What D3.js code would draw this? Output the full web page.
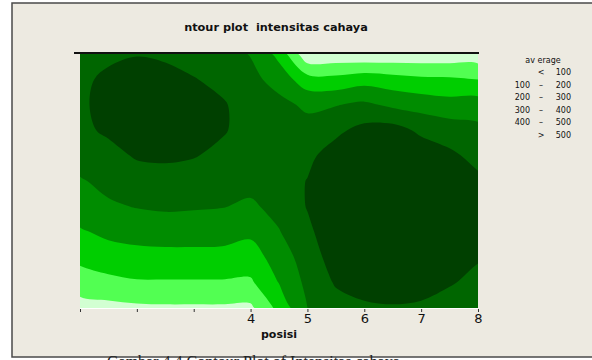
<!DOCTYPE html>
<html><head><meta charset="utf-8">
<script src="https://cdn.jsdelivr.net/npm/d3@7"></script>
<style>
html,body{margin:0;padding:0;background:#fff;overflow:hidden;}
svg{display:block;}
text{white-space:pre;}
</style></head>
<body>
<svg id="c" width="592" height="360"></svg>
<script>
// posisi (x) grid and row levels (top to bottom)
const posisi = [1, 1.5, 2, 2.5, 3, 3.5, 4, 4.5, 5, 5.5, 6, 6.5, 7, 7.5, 8];
const baris = [10, 9, 8, 7, 6, 5, 4, 3, 2, 1, 0];
// intensitas cahaya, one row per level in "baris", one column per "posisi"
const intensitas = [
  [470, 480, 495, 480, 460, 440, 395, 270,  20,  30,  20,  25,  30,  35,  40],
  [480, 520, 545, 540, 505, 475, 430, 360, 240, 230, 260, 240, 220, 215, 200],
  [480, 540, 560, 560, 540, 510, 460, 430, 380, 395, 420, 380, 360, 340, 350],
  [480, 515, 550, 550, 535, 508, 470, 460, 440, 480, 530, 540, 480, 450, 425],
  [450, 470, 510, 515, 505, 480, 460, 470, 480, 540, 580, 590, 560, 520, 470],
  [390, 430, 455, 465, 460, 440, 430, 460, 503, 560, 600, 610, 600, 560, 520],
  [350, 385, 405, 415, 410, 404, 385, 430, 505, 570, 605, 615, 610, 575, 540],
  [290, 320, 340, 345, 345, 340, 320, 395, 480, 565, 600, 610, 605, 570, 535],
  [225, 260, 265, 270, 270, 270, 255, 345, 450, 545, 580, 590, 585, 550, 510],
  [150, 170, 190, 190, 190, 190, 185, 303, 425, 510, 550, 560, 550, 510, 470],
  [ 60,  70,  80,  85,  85,  85,  80, 230, 400, 460, 480, 490, 480, 450, 430]
];
const thresholds = [100, 200, 300, 400, 500];
const bandColors = ["#D2FFD2", "#52FF52", "#00CE00", "#008C00", "#006600", "#004000"];
const tickValues = [1, 2, 3, 4, 5, 6, 7, 8];
const tickLabels = ["", "", "", "4", "5", "6", "7", "8"];
const legendTitle = "av erage";
const legendLow = ["", "100", "200", "300", "400", ""];
const legendSign = ["<", "\u2013", "\u2013", "\u2013", "\u2013", ">"];
const legendHigh = ["100", "200", "300", "400", "500", "500"];
const title = "ntour plot  intensitas cahaya";
const xTitle = "posisi";
const caption = "Gambar 4.4 Contour Plot of Intensitas cahaya";

const svg = d3.select("#c");
const W = 592, H = 360;
const plot = {left: 80, right: 478, top: 54, bottom: 308};

// panel
svg.append("rect").attr("x", 0).attr("y", 0).attr("width", W).attr("height", H).attr("fill", "#fff");
svg.append("rect").attr("x", 12).attr("y", 3).attr("width", W).attr("height", 354)
  .attr("fill", "#EDEAE1").attr("stroke", "#4a4a4a").attr("stroke-width", 1.5);

svg.append("text").attr("x", 276).attr("y", 31).attr("text-anchor", "middle")
  .attr("font-family", "DejaVu Sans").attr("font-weight", "bold").attr("font-size", 11.3)
  .attr("fill", "#111").text(title);

const xS = d3.scaleLinear().domain([1, 8]).range([plot.left, plot.right]);
const yS = d3.scaleLinear().domain([0, 10]).range([plot.bottom, plot.top]);
const n = posisi.length, m = baris.length;
const xi = d3.scaleLinear().domain([0, n - 1]).range([posisi[0], posisi[n - 1]]);
const yi = d3.scaleLinear().domain([0, m - 1]).range([baris[0], baris[m - 1]]);

const flat = intensitas.flat();
const contours = d3.contours().size([n, m]).thresholds(thresholds)(flat);
const px = p => [xS(xi(p[0] - 0.5)), yS(yi(p[1] - 0.5))];
const ringLine = d3.line().curve(d3.curveCatmullRomClosed.alpha(0.5));
function bandPath(mp) {
  let s = "";
  mp.coordinates.forEach(poly => poly.forEach(ring => {
    const pts = ring.slice(0, ring.length - 1).map(px);
    s += ringLine(pts);
  }));
  return s;
}

svg.append("clipPath").attr("id", "clip").append("rect")
  .attr("x", plot.left).attr("y", plot.top)
  .attr("width", plot.right - plot.left).attr("height", plot.bottom - plot.top);

const g = svg.append("g").attr("clip-path", "url(#clip)");
g.append("rect").attr("x", plot.left).attr("y", plot.top)
  .attr("width", plot.right - plot.left).attr("height", plot.bottom - plot.top)
  .attr("fill", bandColors[0]);
g.selectAll("path.band").data(contours).join("path")
  .attr("class", "band").attr("d", bandPath)
  .attr("fill-rule", "evenodd")
  .attr("fill", (d, i) => bandColors[i + 1]);

// top black rule
svg.append("line").attr("x1", 74).attr("x2", 479).attr("y1", 53).attr("y2", 53)
  .attr("stroke", "#111").attr("stroke-width", 2);
// bottom white rule
svg.append("line").attr("x1", plot.left).attr("x2", plot.right).attr("y1", 308.5).attr("y2", 308.5)
  .attr("stroke", "#fff").attr("stroke-width", 1);

const axis = d3.axisBottom(xS).tickValues(tickValues).tickSize(3).tickPadding(2)
  .tickFormat((d, i) => tickLabels[i]);
const ax = svg.append("g").attr("transform", `translate(0,${plot.bottom + 1})`).call(axis);
ax.select(".domain").remove();
ax.selectAll(".tick line").attr("stroke", "#333");
ax.selectAll(".tick text").attr("font-family", "DejaVu Sans").attr("font-size", 13).attr("fill", "#111");

svg.append("text").attr("x", 279).attr("y", 338).attr("text-anchor", "middle")
  .attr("font-family", "DejaVu Sans").attr("font-weight", "bold").attr("font-size", 11)
  .attr("fill", "#111").text(xTitle);

// legend
const lg = svg.append("g").attr("font-family", "DejaVu Sans").attr("font-size", 8).attr("fill", "#111");
lg.append("text").attr("x", 543).attr("y", 63).attr("text-anchor", "middle").text(legendTitle);
legendSign.forEach((s, i) => {
  const y = 75 + i * 12.5;
  lg.append("text").attr("x", 530).attr("y", y).attr("text-anchor", "end").text(legendLow[i]);
  lg.append("text").attr("x", 541).attr("y", y).attr("text-anchor", "middle").text(s);
  lg.append("text").attr("x", 571).attr("y", y).attr("text-anchor", "end").text(legendHigh[i]);
});

// document caption below the figure, cut off by the frame as in the source
svg.append("text").attr("x", 107).attr("y", 367)
  .attr("font-family", "Liberation Serif").attr("font-size", 16).attr("fill", "#222")
  .text(caption);
</script>
</body></html>
